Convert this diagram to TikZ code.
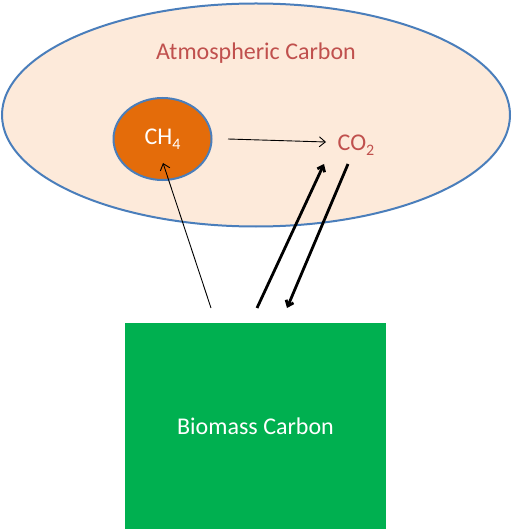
\documentclass[tikz,border=0pt]{standalone}
\usepackage{fontspec}
\setmainfont{Carlito}
\usetikzlibrary{arrows.meta,shapes.geometric}
\definecolor{atmfill}{HTML}{FDEADA}
\definecolor{edgeblue}{HTML}{4A7EBB}
\definecolor{ch4fill}{HTML}{E46C0A}
\definecolor{biogreen}{HTML}{00B050}
\definecolor{redtext}{HTML}{C0504D}
\newcommand{\lowsub}[1]{\raisebox{-0.22em}{\fontsize{16}{18}\selectfont #1}}
\tikzset{
  lbl/.style={font=\fontsize{24}{28}\selectfont},
  thinflow/.style={draw=black,line width=0.9pt,-{Straight Barb[length=6pt,width=10pt]}},
  thickflow/.style={draw=black,line width=2.8pt,-{Straight Barb[length=5pt,width=8pt]}},
}
\begin{document}
\begin{tikzpicture}[x=1pt,y=-1pt]
\useasboundingbox (0,0) rectangle (512,529);
\node[ellipse,draw=edgeblue,line width=2pt,fill=atmfill,minimum width=508pt,minimum height=223pt,inner sep=0pt] (atm) at (256,115) {};
\node[text=redtext,lbl] (atmlabel) at (256,53) {Atmospheric Carbon};
\node[ellipse,draw=edgeblue,line width=2pt,fill=ch4fill,minimum width=98pt,minimum height=82pt,inner sep=0pt,text=white,lbl] (ch4) at (162.5,139) {CH\lowsub{4}};
\node[text=redtext,lbl,inner sep=1pt] (co2) at (356,145) {CO\lowsub{2}};
\node[rectangle,fill=biogreen,minimum width=261pt,minimum height=206pt,inner sep=0pt,text=white,lbl] (bio) at (255.5,426) {Biomass Carbon};
\coordinate (c1) at (228,139);
\coordinate (c2) at (326,142);
\coordinate (b1) at (211,308);
\coordinate (b2) at (257,308);
\coordinate (b3) at (287,308);
\coordinate (t1) at (163,163);
\coordinate (t2) at (324,164);
\coordinate (t3) at (348,164);
\draw[thinflow] (c1) -- (c2);
\draw[thinflow] (b1) -- (t1);
\draw[thickflow] (b2) -- (t2);
\draw[thickflow] (t3) -- (b3);
\end{tikzpicture}
\end{document}
